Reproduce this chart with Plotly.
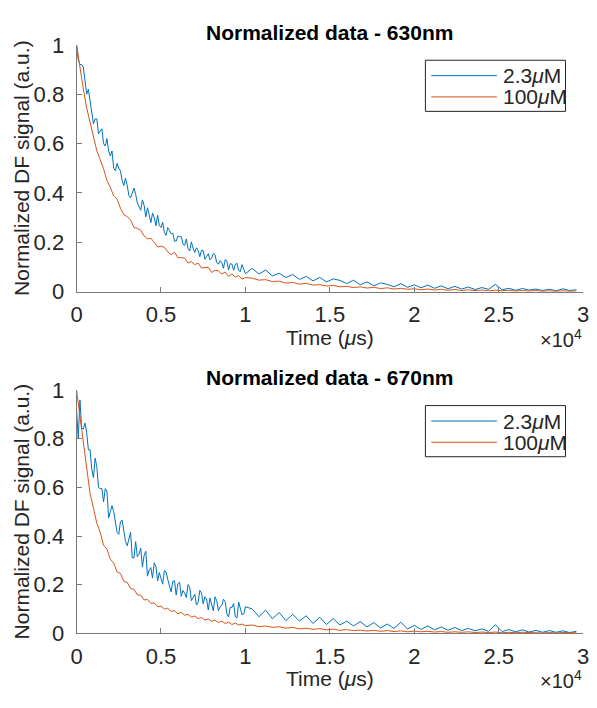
import numpy as np
import plotly.graph_objects as go

# Sampling grids (µs). The 2.3 µM traces are sampled twice as densely up to 10 ms.
time_low = np.concatenate([np.arange(0, 10001, 100), np.arange(10400, 29601, 400)])
time_high = np.concatenate([np.arange(0, 10001, 200), np.arange(10400, 29601, 400)])

# 630 nm, 2.3 µM
sig630_low = [
    1.00, 0.94, 0.92, 0.92, 0.91, 0.84, 0.80, 0.82, 0.77, 0.72,
    0.68, 0.70, 0.70, 0.64, 0.65, 0.66, 0.60, 0.59, 0.62, 0.57,
    0.55, 0.57, 0.50, 0.49, 0.52, 0.50, 0.49, 0.45, 0.43, 0.46,
    0.43, 0.39, 0.38, 0.40, 0.42, 0.395, 0.36, 0.345, 0.33, 0.372,
    0.35, 0.303, 0.34, 0.312, 0.28, 0.318, 0.30, 0.267, 0.31, 0.269,
    0.26, 0.282, 0.24, 0.228, 0.26, 0.249, 0.235, 0.237, 0.205, 0.205,
    0.226, 0.223, 0.223, 0.193, 0.188, 0.214, 0.175, 0.165, 0.202, 0.177,
    0.159, 0.178, 0.167, 0.142, 0.168, 0.167, 0.132, 0.143, 0.154, 0.129,
    0.136, 0.155, 0.150, 0.118, 0.112, 0.126, 0.118, 0.095, 0.130, 0.125,
    0.088, 0.114, 0.112, 0.087, 0.111, 0.115, 0.086, 0.082, 0.110, 0.092,
    0.073,
    0.095, 0.072, 0.088, 0.064, 0.075, 0.058, 0.070, 0.050, 0.062, 0.044,
    0.058, 0.040, 0.052, 0.046, 0.033, 0.047, 0.028, 0.040, 0.024, 0.036,
    0.030, 0.020, 0.033, 0.018, 0.028, 0.016, 0.027, 0.014, 0.024, 0.012,
    0.022, 0.011, 0.019, 0.009, 0.017, 0.010, 0.030, 0.008, 0.014, 0.006,
    0.013, 0.007, 0.011, 0.005, 0.010, 0.004, 0.012, 0.005, 0.008,
]

# 630 nm, 100 µM
sig630_high = [
    1.00, 0.907, 0.821, 0.744, 0.689, 0.627, 0.571, 0.535, 0.498, 0.450,
    0.423, 0.388, 0.375, 0.338, 0.312, 0.304, 0.291, 0.260, 0.257, 0.249,
    0.226, 0.214, 0.217, 0.200, 0.181, 0.185, 0.180, 0.162, 0.150, 0.160,
    0.138, 0.138, 0.136, 0.117, 0.122, 0.110, 0.116, 0.096, 0.096, 0.099,
    0.078, 0.087, 0.085, 0.072, 0.080, 0.062, 0.072, 0.059, 0.066, 0.051,
    0.057,
    0.055, 0.047, 0.049, 0.041, 0.043, 0.035, 0.038, 0.031, 0.034, 0.027,
    0.029, 0.023, 0.026, 0.020, 0.022, 0.017, 0.020, 0.015, 0.018, 0.013,
    0.016, 0.011, 0.014, 0.010, 0.012, 0.008, 0.011, 0.007, 0.010, 0.006,
    0.009, 0.005, 0.008, 0.005, 0.007, 0.004, 0.006, 0.004, 0.006, 0.003,
    0.005, 0.003, 0.005, 0.002, 0.004, 0.002, 0.004, 0.002, 0.003,
]

# 670 nm, 2.3 µM
sig670_low = [
    0.92, 0.80, 0.96, 0.845, 0.84, 0.865, 0.825, 0.755, 0.755, 0.675,
    0.64, 0.72, 0.685, 0.60, 0.595, 0.595, 0.54, 0.595, 0.585, 0.475,
    0.50, 0.525, 0.50, 0.457, 0.415, 0.407, 0.46, 0.465, 0.415, 0.377,
    0.36, 0.39, 0.415, 0.31, 0.31, 0.377, 0.315, 0.325, 0.35, 0.272,
    0.32, 0.337, 0.235, 0.26, 0.27, 0.227, 0.29, 0.275, 0.215, 0.25,
    0.221, 0.202, 0.257, 0.252, 0.222, 0.193, 0.170, 0.214, 0.216, 0.157,
    0.204, 0.21, 0.152, 0.176, 0.165, 0.147, 0.200, 0.189, 0.134, 0.147,
    0.161, 0.116, 0.128, 0.176, 0.166, 0.121, 0.150, 0.141, 0.096, 0.145,
    0.112, 0.092, 0.150, 0.134, 0.093, 0.109, 0.114, 0.14, 0.131, 0.08,
    0.067, 0.107, 0.106, 0.122, 0.068, 0.063, 0.128, 0.106, 0.076, 0.079,
    0.109,
    0.100, 0.068, 0.095, 0.060, 0.085, 0.052, 0.078, 0.050, 0.072, 0.040,
    0.066, 0.036, 0.060, 0.034, 0.050, 0.030, 0.048, 0.026, 0.044, 0.022,
    0.038, 0.020, 0.045, 0.018, 0.032, 0.016, 0.030, 0.014, 0.026, 0.012,
    0.024, 0.011, 0.020, 0.010, 0.018, 0.008, 0.035, 0.007, 0.015, 0.006,
    0.014, 0.005, 0.012, 0.004, 0.011, 0.004, 0.010, 0.003, 0.008,
]

# 670 nm, 100 µM
sig670_high = [
    1.00, 0.893, 0.791, 0.698, 0.574, 0.516, 0.452, 0.415, 0.362, 0.346,
    0.304, 0.289, 0.252, 0.246, 0.214, 0.209, 0.184, 0.181, 0.158, 0.157,
    0.137, 0.139, 0.123, 0.125, 0.109, 0.112, 0.099, 0.103, 0.090, 0.093,
    0.080, 0.086, 0.074, 0.078, 0.066, 0.071, 0.060, 0.065, 0.054, 0.059,
    0.049, 0.054, 0.044, 0.050, 0.040, 0.046, 0.036, 0.042, 0.034, 0.038,
    0.031,
    0.034, 0.027, 0.030, 0.024, 0.027, 0.021, 0.024, 0.018, 0.021, 0.016,
    0.019, 0.014, 0.017, 0.012, 0.015, 0.011, 0.013, 0.009, 0.012, 0.008,
    0.011, 0.007, 0.010, 0.006, 0.009, 0.006, 0.008, 0.005, 0.007, 0.004,
    0.006, 0.004, 0.006, 0.003, 0.005, 0.003, 0.005, 0.002, 0.004, 0.002,
    0.004, 0.002, 0.003, 0.001, 0.003, 0.001, 0.003, 0.001, 0.002,
]

series_names = ["2.3<i>μ</i>M", "100<i>μ</i>M"]
panel_titles = ["Normalized data - 630nm", "Normalized data - 670nm"]
x_tickvals = [0, 5000, 10000, 15000, 20000, 25000, 30000]
x_ticktext = ["0", "0.5", "1", "1.5", "2", "2.5", "3"]
y_tickvals = [0, 0.2, 0.4, 0.6, 0.8, 1]
y_ticktext = ["0", "0.2", "0.4", "0.6", "0.8", "1"]

BLUE = "#0072BD"
ORANGE = "#D95319"
AXIS = "#7a7a7a"
TEXT = "#262626"
FONT = "Liberation Sans, Arial, sans-serif"

W, H = 597, 708
# plot-area pixel boxes: (left, right, top, bottom)
boxes = [(72, 589, 34, 290), (72, 589, 392, 644)]


def px_x(p):
    return p / W


def px_y(p):
    return 1 - p / H


fig = go.Figure()
panels = [(sig630_low, sig630_high), (sig670_low, sig670_high)]
for k, (low, high) in enumerate(panels):
    xa = "x" if k == 0 else "x2"
    ya = "y" if k == 0 else "y2"
    fig.add_trace(go.Scatter(x=time_low, y=low, mode="lines", name=series_names[0],
                             line=dict(color=BLUE, width=1), xaxis=xa, yaxis=ya,
                             showlegend=False))
    fig.add_trace(go.Scatter(x=time_high, y=high, mode="lines", name=series_names[1],
                             line=dict(color=ORANGE, width=1), xaxis=xa, yaxis=ya,
                             showlegend=False))

axis_common = dict(showgrid=False, zeroline=False, showline=True, linecolor=AXIS,
                   linewidth=1, ticks="inside", ticklen=5, tickcolor=AXIS,
                   tickfont=dict(family=FONT, size=22, color=TEXT), mirror=False)

layout = dict(width=W, height=H, margin=dict(l=0, r=0, t=0, b=0),
              paper_bgcolor="white", plot_bgcolor="white", showlegend=False,
              font=dict(family=FONT, color=TEXT))

shapes = []
annotations = []
for k, (l, r, t, b) in enumerate(boxes):
    sx = "" if k == 0 else "2"
    layout["xaxis" + sx] = dict(axis_common, domain=[px_x(l), px_x(r)], range=[0, 30000],
                                tickvals=x_tickvals, ticktext=x_ticktext,
                                anchor="y" + sx, ticklabelstandoff=3)
    layout["yaxis" + sx] = dict(axis_common, domain=[px_y(b), px_y(t)], range=[0, 1],
                                tickvals=y_tickvals, ticktext=y_ticktext,
                                anchor="x" + sx, ticklabelstandoff=7)
    cx = (l + r) / 2
    # panel title
    annotations.append(dict(text="<b>" + panel_titles[k] + "</b>", x=px_x(cx), y=px_y(t - 13),
                            xref="paper", yref="paper", showarrow=False,
                            font=dict(size=21, color="black", family=FONT),
                            xanchor="center", yanchor="middle"))
    # x-axis title
    annotations.append(dict(text="Time (<i>μ</i>s)", x=px_x(cx), y=px_y(b + 47),
                            xref="paper", yref="paper", showarrow=False,
                            font=dict(size=21, color=TEXT, family=FONT),
                            xanchor="center", yanchor="middle"))
    # exponent label
    annotations.append(dict(text="×10<sup>4</sup>", x=px_x(r + 1), y=px_y(b + 48),
                            xref="paper", yref="paper", showarrow=False,
                            font=dict(size=20, color=TEXT, family=FONT),
                            xanchor="right", yanchor="middle"))
    # y-axis title
    annotations.append(dict(text="Normalized DF signal (a.u.)", x=px_x(16), y=px_y((t + b) / 2),
                            xref="paper", yref="paper", showarrow=False, textangle=-90,
                            font=dict(size=21, color=TEXT, family=FONT),
                            xanchor="center", yanchor="middle"))
    # legend box
    lt = t + 16
    shapes.append(dict(type="rect", xref="paper", yref="paper",
                       x0=px_x(428), x1=px_x(571), y0=px_y(lt), y1=px_y(lt + 53),
                       line=dict(color="#262626", width=1), fillcolor="white", layer="above"))
    for j, col in enumerate([BLUE, ORANGE]):
        ly = lt + 16 + 22 * j
        shapes.append(dict(type="line", xref="paper", yref="paper",
                           x0=px_x(434), x1=px_x(501), y0=px_y(ly), y1=px_y(ly),
                           line=dict(color=col, width=1), layer="above"))
        annotations.append(dict(text=series_names[j], x=px_x(505), y=px_y(ly),
                                xref="paper", yref="paper", showarrow=False,
                                font=dict(size=21, color=TEXT, family=FONT),
                                xanchor="left", yanchor="middle"))

layout["shapes"] = shapes
layout["annotations"] = annotations
fig.update_layout(**layout)
fig.write_html("out.html")
